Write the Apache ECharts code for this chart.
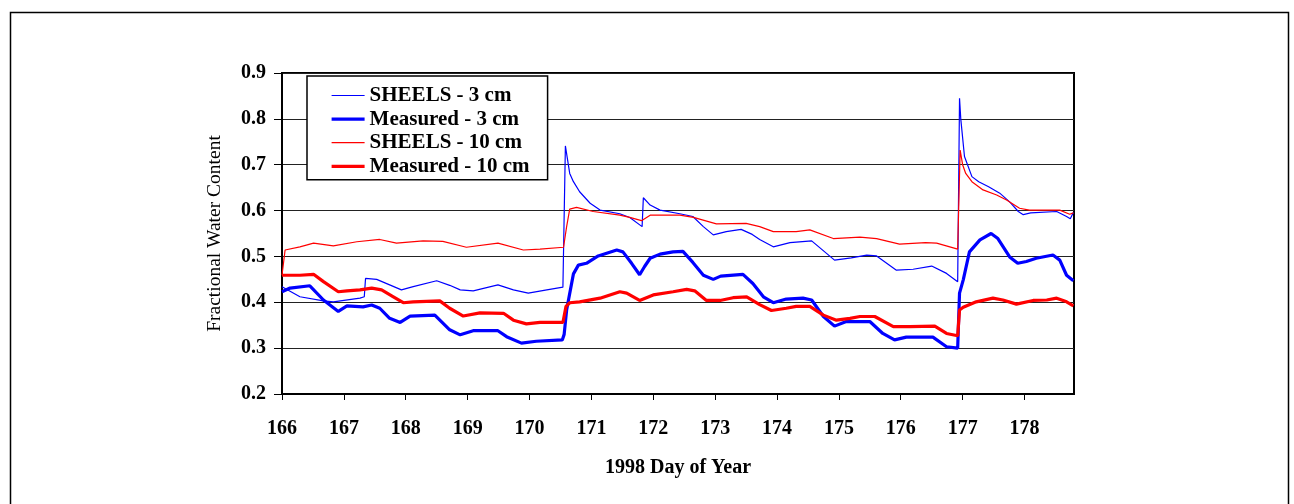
<!DOCTYPE html>
<html>
<head>
<meta charset="utf-8">
<style>
html,body{margin:0;padding:0;background:#fff;}
#chart{width:1294px;height:504px;}
</style>
<script src="https://cdn.jsdelivr.net/npm/echarts@6/dist/echarts.min.js"></script>
</head>
<body>
<div id="chart"></div>
<script>
var seriesNames = ['SHEELS - 3 cm', 'Measured - 3 cm', 'SHEELS - 10 cm', 'Measured - 10 cm'];
var dayTicks = [166,167,168,169,170,171,172,173,174,175,176,177,178];

var sheels3 = [
[166.0,0.434],[166.29,0.412],[166.67,0.403],[166.83,0.401],[167.26,0.409],[167.33,0.412],[167.35,0.452],[167.53,0.450],[167.74,0.438],[167.93,0.427],[168.12,0.434],[168.5,0.447],[168.71,0.437],[168.88,0.427],[169.09,0.425],[169.49,0.438],[169.74,0.427],[169.98,0.420],[170.28,0.427],[170.54,0.433],[170.58,0.741],[170.65,0.681],[170.71,0.663],[170.81,0.641],[170.98,0.616],[171.14,0.601],[171.46,0.593],[171.62,0.585],[171.82,0.565],[171.84,0.628],[171.95,0.612],[172.11,0.601],[172.43,0.593],[172.64,0.587],[172.81,0.565],[172.97,0.547],[173.18,0.554],[173.42,0.559],[173.6,0.548],[173.72,0.537],[173.94,0.521],[174.21,0.530],[174.56,0.534],[174.93,0.492],[175.2,0.497],[175.45,0.503],[175.61,0.501],[175.93,0.470],[176.2,0.472],[176.5,0.479],[176.74,0.463],[176.92,0.445],[176.95,0.845],[176.97,0.80],[177.03,0.718],[177.15,0.674],[177.26,0.663],[177.42,0.652],[177.6,0.638],[177.76,0.619],[177.9,0.598],[177.98,0.591],[178.1,0.595],[178.52,0.598],[178.68,0.587],[178.74,0.582],[178.79,0.596]
];
var measured3 = [
[166.0,0.423],[166.13,0.431],[166.45,0.436],[166.67,0.405],[166.91,0.380],[167.05,0.392],[167.31,0.390],[167.45,0.394],[167.58,0.387],[167.74,0.365],[167.91,0.356],[168.07,0.370],[168.47,0.372],[168.71,0.340],[168.88,0.329],[169.09,0.338],[169.49,0.338],[169.63,0.325],[169.87,0.311],[170.11,0.315],[170.53,0.318],[170.56,0.33],[170.6,0.383],[170.63,0.405],[170.71,0.462],[170.79,0.481],[170.92,0.485],[171.11,0.501],[171.41,0.514],[171.51,0.510],[171.65,0.485],[171.78,0.460],[171.86,0.478],[171.95,0.496],[172.11,0.505],[172.32,0.510],[172.48,0.511],[172.64,0.487],[172.81,0.459],[172.97,0.450],[173.09,0.457],[173.45,0.461],[173.61,0.441],[173.78,0.412],[173.94,0.399],[174.15,0.407],[174.42,0.409],[174.56,0.405],[174.75,0.369],[174.93,0.348],[175.12,0.358],[175.5,0.358],[175.71,0.332],[175.9,0.318],[176.09,0.324],[176.52,0.324],[176.74,0.303],[176.92,0.300],[176.95,0.420],[177.01,0.449],[177.11,0.510],[177.28,0.536],[177.46,0.550],[177.57,0.539],[177.76,0.499],[177.89,0.485],[178.03,0.489],[178.19,0.496],[178.46,0.503],[178.57,0.492],[178.68,0.459],[178.79,0.447]
];
var sheels10 = [
[166.0,0.459],[166.05,0.514],[166.29,0.521],[166.51,0.529],[166.83,0.523],[167.21,0.532],[167.58,0.537],[167.85,0.529],[168.28,0.534],[168.6,0.533],[168.98,0.520],[169.49,0.529],[169.9,0.514],[170.17,0.516],[170.55,0.520],[170.6,0.565],[170.65,0.603],[170.76,0.607],[171.03,0.598],[171.46,0.590],[171.62,0.585],[171.81,0.578],[171.95,0.590],[172.43,0.590],[172.65,0.585],[173.02,0.571],[173.5,0.572],[173.72,0.565],[173.94,0.554],[174.31,0.554],[174.53,0.558],[174.91,0.539],[175.34,0.542],[175.61,0.539],[175.98,0.527],[176.4,0.530],[176.58,0.529],[176.92,0.516],[176.96,0.732],[177.0,0.700],[177.05,0.681],[177.15,0.663],[177.33,0.645],[177.55,0.634],[177.71,0.623],[177.92,0.605],[178.08,0.601],[178.57,0.601],[178.73,0.592],[178.79,0.595]
];
var measured10 = [
[166.0,0.459],[166.29,0.459],[166.51,0.461],[166.67,0.445],[166.91,0.423],[167.05,0.425],[167.26,0.427],[167.45,0.431],[167.61,0.427],[167.80,0.412],[167.96,0.399],[168.12,0.401],[168.55,0.403],[168.71,0.387],[168.93,0.370],[169.2,0.377],[169.58,0.376],[169.74,0.361],[169.95,0.353],[170.17,0.356],[170.54,0.356],[170.59,0.391],[170.65,0.399],[170.81,0.401],[171.14,0.409],[171.3,0.416],[171.46,0.423],[171.57,0.420],[171.78,0.404],[172.0,0.416],[172.32,0.423],[172.54,0.428],[172.67,0.425],[172.86,0.404],[173.08,0.404],[173.29,0.410],[173.51,0.412],[173.72,0.395],[173.91,0.382],[174.15,0.387],[174.31,0.391],[174.53,0.391],[174.75,0.372],[174.96,0.361],[175.18,0.365],[175.34,0.369],[175.58,0.369],[175.88,0.347],[176.15,0.347],[176.55,0.348],[176.74,0.332],[176.92,0.327],[176.95,0.383],[177.01,0.389],[177.22,0.401],[177.49,0.409],[177.65,0.405],[177.87,0.396],[178.14,0.404],[178.36,0.405],[178.52,0.409],[178.68,0.401],[178.79,0.392]
];

var FONT = 'Liberation Serif';
var THIN = 1.2, THICK = 3.2;
var chart = echarts.init(document.getElementById('chart'), null, {renderer: 'canvas'});

function lineSeries(name, data, color, width) {
  return {
    name: name, type: 'line', data: data, showSymbol: false, symbol: 'none',
    lineStyle: {color: color, width: width}, itemStyle: {color: color},
    animation: false, silent: true
  };
}

chart.setOption({
  backgroundColor: '#fff',
  animation: false,
  graphic: [{
    type: 'rect', left: 8, top: 10, shape: {width: 1278, height: 520},
    style: {fill: 'none', stroke: '#000', lineWidth: 1.5}, silent: true
  }],
  grid: {left: 282, right: 220, top: 73, bottom: 110, show: true, borderColor: '#000', borderWidth: 2, backgroundColor: 'transparent'},
  legend: {
    orient: 'vertical', left: 307, top: 76,
    data: [
      {name: seriesNames[0], lineStyle: {width: THIN}},
      {name: seriesNames[1], lineStyle: {width: THICK}},
      {name: seriesNames[2], lineStyle: {width: THIN}},
      {name: seriesNames[3], lineStyle: {width: THICK}}
    ],
    itemWidth: 33, itemHeight: 14, itemGap: 2.6,
    padding: [9, 18, 3, 23],
    itemStyle: {opacity: 0, borderWidth: 0},
    borderColor: '#000', borderWidth: 1.5, backgroundColor: '#fff',
    textStyle: {fontFamily: FONT, fontWeight: 'bold', fontSize: 21, color: '#000', lineHeight: 20},
    selectedMode: false
  },
  xAxis: {
    type: 'value', min: 166, max: 178.8, interval: 1,
    name: '1998 Day of Year', nameLocation: 'middle', nameGap: 64,
    nameTextStyle: {fontFamily: FONT, fontWeight: 'bold', fontSize: 20, color: '#000'},
    axisLine: {show: true, onZero: false, lineStyle: {color: '#000', width: 2}},
    axisTick: {show: true, length: 6, lineStyle: {color: '#000', width: 1}, customValues: dayTicks},
    axisLabel: {margin: 25, fontFamily: FONT, fontWeight: 'bold', fontSize: 20, color: '#000', customValues: dayTicks,
      formatter: function (v) { return (Math.abs(v - Math.round(v)) < 1e-6) ? String(Math.round(v)) : ''; }},
    splitLine: {show: false}
  },
  yAxis: {
    type: 'value', min: 0.2, max: 0.9, interval: 0.1,
    name: 'Fractional Water Content', nameLocation: 'middle', nameGap: 57,
    nameTextStyle: {fontFamily: FONT, fontSize: 19.5, color: '#000'},
    axisLine: {show: true, lineStyle: {color: '#000', width: 2}},
    axisTick: {show: true, length: 8, lineStyle: {color: '#000', width: 1}},
    axisLabel: {margin: 16, fontFamily: FONT, fontWeight: 'bold', fontSize: 20, color: '#000',
      formatter: function (v) { return v.toFixed(1); }},
    splitLine: {show: true, lineStyle: {color: '#222', width: 1}}
  },
  series: [
    lineSeries(seriesNames[0], sheels3, '#0000ff', THIN),
    lineSeries(seriesNames[1], measured3, '#0000ff', THICK),
    lineSeries(seriesNames[2], sheels10, '#ff0000', THIN),
    lineSeries(seriesNames[3], measured10, '#ff0000', THICK)
  ]
});
</script>
</body>
</html>
